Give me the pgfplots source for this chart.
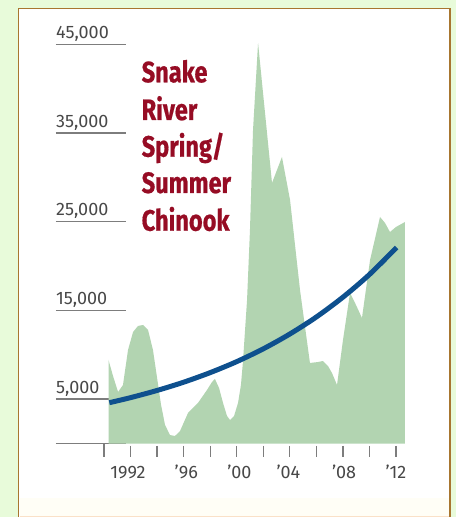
\documentclass[border=0pt]{standalone}
\usepackage{pgfplots}
\pgfplotsset{compat=1.18}
\usepackage{fontspec}
\setmainfont{Fira Sans}
\newfontfamily\titlefont[FakeStretch=0.8, BoldFeatures={FakeBold=0.6}]{Fira Sans}

\definecolor{bggreen}{RGB}{232,251,218}
\definecolor{framebrown}{RGB}{168,118,48}
\definecolor{panelcream}{RGB}{255,254,246}
\definecolor{peachedge}{RGB}{250,225,200}
\definecolor{areagreen}{RGB}{178,212,177}
\definecolor{trendblue}{RGB}{14,80,142}
\definecolor{titlered}{RGB}{150,12,36}
\definecolor{tickgray}{RGB}{125,125,125}
\definecolor{labelgray}{RGB}{72,72,72}

\begin{document}
\begin{tikzpicture}[x=1pt,y=1pt]
\useasboundingbox (0,0) rectangle (456,517);
% page background and framed white panel
\fill[bggreen] (0,0) rectangle (456,517);
\fill[white] (18.5,0) rectangle (450,508.5);
\fill[panelcream] (19.5,0) rectangle (449,19);
\draw[peachedge, line width=0.8pt] (19.5,1) -- (449,1);
\draw[framebrown, line width=1.6pt] (18.5,-2) -- (18.5,508.5) -- (450,508.5) -- (450,-2);

\begin{axis}[
  at={(104pt,73.5pt)}, anchor=south west,
  scale only axis, width=305.21pt, height=399.15pt,
  xmin=1990, xmax=2013, ymin=0, ymax=45000,
  axis lines=none, clip=false,
  font=\fontsize{18}{18}\selectfont,
]
% value ticks: short rules with the number above
\pgfplotsinvokeforeach{0,5000,15000,25000,35000,45000}{
  \draw[tickgray, line width=1.4pt] (axis cs:1986.38,#1) -- (axis cs:1991.66,#1);
}
\node[anchor=base west, inner sep=0, text=labelgray] at (axis cs:1986.38,5680) {5,000};
\node[anchor=base west, inner sep=0, text=labelgray] at (axis cs:1986.38,15680) {15,000};
\node[anchor=base west, inner sep=0, text=labelgray] at (axis cs:1986.38,25680) {25,000};
\node[anchor=base west, inner sep=0, text=labelgray] at (axis cs:1986.38,35680) {35,000};
\node[anchor=base west, inner sep=0, text=labelgray] at (axis cs:1986.38,45680) {45,000};
% year ticks below the baseline
\draw[tickgray, line width=1.3pt] (axis cs:1990,0) -- (axis cs:1990,-1520);
\pgfplotsinvokeforeach{1992,1994,...,2012}{
  \draw[tickgray, line width=1.3pt] (axis cs:#1,-280) -- (axis cs:#1,-1520);
}
\node[anchor=base, inner sep=0, text=labelgray] at (axis cs:1991.8,-3950) {1992};
\node[anchor=base, inner sep=0, text=labelgray] at (axis cs:1996.2,-3950) {’96};
\node[anchor=base, inner sep=0, text=labelgray] at (axis cs:2000.2,-3950) {’00};
\node[anchor=base, inner sep=0, text=labelgray] at (axis cs:2003.9,-3950) {’04};
\node[anchor=base, inner sep=0, text=labelgray] at (axis cs:2008.1,-3950) {’08};
\node[anchor=base, inner sep=0, text=labelgray] at (axis cs:2012.0,-3950) {’12};

% returning adult fish counts
\addplot[fill=areagreen, draw=none] coordinates {
  (1990.34,0) (1990.34,9414) (1990.68,7610) (1991.06,5806) (1991.43,6595)
  (1991.81,10541) (1992.19,12571) (1992.56,13247) (1992.94,13360) (1993.32,12796)
  (1993.69,10541) (1993.99,7497) (1994.30,4340) (1994.60,2086) (1994.97,958)
  (1995.35,846) (1995.73,1409) (1996.33,3439) (1997.08,4566) (1997.76,6032)
  (1998.14,6934) (1998.36,7272) (1998.67,6257) (1998.97,4566) (1999.27,3100)
  (1999.50,2649) (1999.80,3100) (2000.10,4566) (2000.32,6595) (2000.47,9188)
  (2000.78,16178) (2001.00,24070) (2001.23,35344) (2001.61,45152) (2002.66,29369)
  (2003.41,32300) (2004.02,27452) (2004.77,17306) (2005.52,9076) (2006.13,9188)
  (2006.50,9301) (2006.88,8737) (2007.18,7948) (2007.56,6595) (2008.01,11669)
  (2008.54,16967) (2008.99,15614) (2009.44,14149) (2010.05,20688) (2010.80,25536)
  (2011.18,24859) (2011.55,23844) (2012.00,24408) (2012.68,24972) (2012.68,0)
} -- cycle;

% trend line
\addplot[smooth, trendblue, line width=5pt] coordinates {
  (1990.40,4600) (1992,5170) (1994,5980) (1996,6910) (1998,7990) (2000,9230)
  (2002,10670) (2004,12340) (2006,14260) (2008,16490) (2010,19050) (2012.05,22100)
};
\end{axis}

% title
\begin{scope}[every node/.style={anchor=base west, inner sep=0, text=titlered,
    font=\titlefont\bfseries\fontsize{29.5}{30}\selectfont}]
\node at (141.5,434.7) {Snake};
\node at (141.5,397.0) {River};
\node at (141.5,360.3) {Spring/};
\node at (141.5,324.0) {Summer};
\node at (141.5,286.3) {Chinook};
\end{scope}
\end{tikzpicture}
\end{document}
